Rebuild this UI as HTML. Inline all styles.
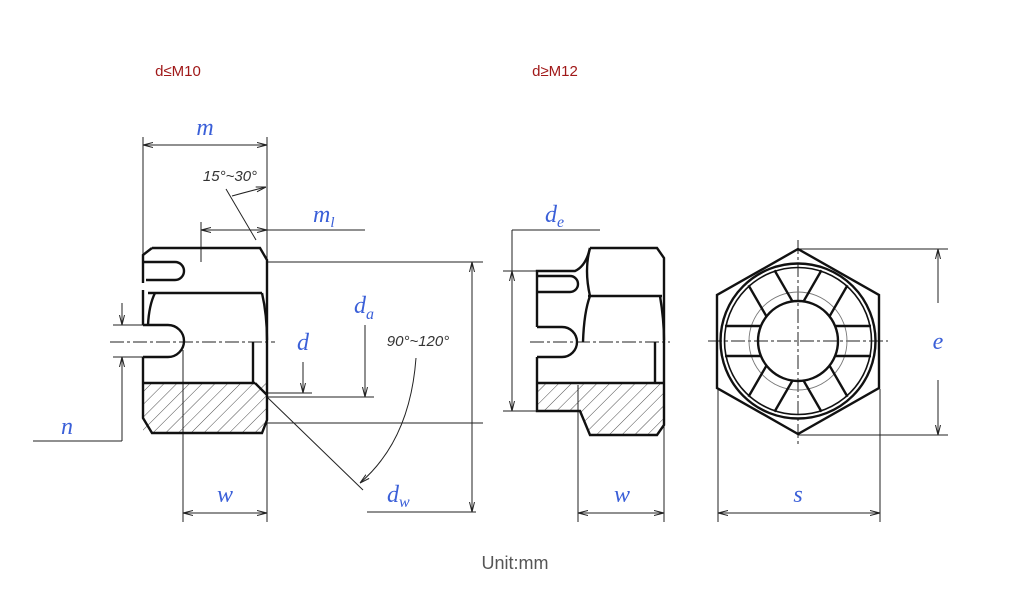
<!DOCTYPE html>
<html><head><meta charset="utf-8"><style>
html,body{margin:0;padding:0;background:#fff;width:1024px;height:604px;overflow:hidden}
svg{display:block}
.l{font-family:"Liberation Serif",serif;font-style:italic;fill:#3a5fd8;font-size:24px}
.t{font-family:"Liberation Sans",sans-serif;font-style:italic;fill:#333;font-size:15px}
</style></head><body>
<svg width="1024" height="604" viewBox="0 0 1024 604" xmlns="http://www.w3.org/2000/svg">
<defs>
<pattern id="h" patternUnits="userSpaceOnUse" width="9" height="9" patternTransform="rotate(45)">
<line x1="0" y1="0" x2="0" y2="9" stroke="#222" stroke-width="0.8"/></pattern>
<marker id="a" viewBox="0 0 10 6" refX="10" refY="3" markerWidth="10" markerHeight="6" orient="auto-start-reverse" markerUnits="userSpaceOnUse"><path d="M0,0.5 L10,3 L0,5.5" fill="none" stroke="#222" stroke-width="1"/></marker>
</defs>
<text x="178" y="76" text-anchor="middle" font-family="Liberation Sans,DejaVu Sans,sans-serif" font-size="15" fill="#a01818">d≤M10</text>
<text x="555" y="76" text-anchor="middle" font-family="Liberation Sans,DejaVu Sans,sans-serif" font-size="15" fill="#a01818">d≥M12</text>
<text x="515" y="569" text-anchor="middle" font-family="Liberation Sans,sans-serif" font-size="18" fill="#555">Unit:mm</text>

<g stroke="#222" fill="none" stroke-width="1">
<line x1="143" y1="137" x2="143" y2="255"/>
<line x1="267" y1="137" x2="267" y2="522"/>
<line x1="143" y1="145" x2="267" y2="145" marker-start="url(#a)" marker-end="url(#a)"/>
<line x1="226" y1="189" x2="256" y2="240"/>
<path d="M232,196 Q250,191 266,187" marker-end="url(#a)"/>
<line x1="201" y1="222" x2="201" y2="262"/>
<line x1="201" y1="230" x2="267" y2="230" marker-start="url(#a)" marker-end="url(#a)"/>
<line x1="267" y1="230" x2="365" y2="230"/>
<line x1="267" y1="262" x2="483" y2="262"/>
<line x1="267" y1="423" x2="483" y2="423"/>
<line x1="472" y1="262" x2="472" y2="512" marker-start="url(#a)" marker-end="url(#a)"/>
<line x1="113" y1="325" x2="143" y2="325"/>
<line x1="113" y1="357" x2="143" y2="357"/>
<line x1="122" y1="303" x2="122" y2="325" marker-end="url(#a)"/>
<line x1="122" y1="441" x2="122" y2="357" marker-end="url(#a)"/>
<line x1="33" y1="441" x2="122" y2="441"/>
<line x1="183" y1="350" x2="183" y2="522"/>
<line x1="183" y1="513" x2="267" y2="513" marker-start="url(#a)" marker-end="url(#a)"/>
<line x1="303" y1="362" x2="303" y2="393" marker-end="url(#a)"/>
<line x1="267" y1="393" x2="312" y2="393"/>
<line x1="365" y1="325" x2="365" y2="397" marker-end="url(#a)"/>
<line x1="267" y1="397" x2="374" y2="397"/>
<line x1="267" y1="397" x2="363" y2="490"/>
<path d="M416,358 Q410,440 360,483" marker-end="url(#a)"/>
<line x1="367" y1="512" x2="476" y2="512"/>
<line x1="110" y1="342" x2="275" y2="342" stroke-dasharray="14,3,3,3"/>
</g>
<rect x="143" y="383" width="124" height="50" fill="url(#h)"/>
<g stroke="#111" fill="none" stroke-width="2.4">
<path d="M152,248 L260,248 L267,260 L267,420 L262,433 L152,433 L143,418 L143,357"/>
<path d="M143,325 L143,290 M143,283 L143,255 L152,248"/>
<path d="M143,262 L175,262 A9,9 0 0 1 175,280 L146,280"/>
<path d="M143,325 L168,325 A16,16 0 0 1 168,357 L143,357"/>
<line x1="148" y1="293" x2="262" y2="293"/>
<path d="M155,293 Q149,305 148,325"/>
<path d="M262,293 Q267,315 267,340"/>
<line x1="143" y1="383" x2="255" y2="383"/>
<line x1="255" y1="383" x2="267" y2="395"/>
<line x1="253" y1="342" x2="253" y2="383"/>
</g>

<g stroke="#222" fill="none" stroke-width="1">
<line x1="512" y1="230" x2="600" y2="230"/>
<line x1="512" y1="230" x2="512" y2="271"/>
<line x1="512" y1="271" x2="512" y2="411" marker-start="url(#a)" marker-end="url(#a)"/>
<line x1="503" y1="271" x2="545" y2="271"/>
<line x1="503" y1="411" x2="540" y2="411"/>
<line x1="578" y1="385" x2="578" y2="522"/>
<line x1="664" y1="400" x2="664" y2="522"/>
<line x1="578" y1="513" x2="664" y2="513" marker-start="url(#a)" marker-end="url(#a)"/>
<line x1="530" y1="342" x2="670" y2="342" stroke-dasharray="14,3,3,3"/>
</g>
<path d="M537,383 L664,383 L664,425 L657,435 L590,435 L580,411 L537,411 Z" fill="url(#h)"/>
<g stroke="#111" fill="none" stroke-width="2.4">
<path d="M590,248 L657,248 L664,258 L664,425 L657,435 L590,435 L580,411 L537,411 L537,357"/>
<path d="M537,327 L537,271 L575,271 Q586,266 590,248"/>
<path d="M537,276 L570,276 A8,8 0 0 1 570,292 L537,292"/>
<path d="M537,327 L562,327 A15,15 0 0 1 562,357 L537,357"/>
<line x1="588" y1="296" x2="662" y2="296"/>
<path d="M590,296 Q584,312 583,342"/>
<path d="M590,248 Q584,270 590,296"/>
<path d="M660,296 Q664,320 664,340"/>
<line x1="537" y1="383" x2="664" y2="383"/>
<line x1="655" y1="342" x2="655" y2="383"/>
</g>

<g stroke="#222" fill="none" stroke-width="1">
<line x1="798" y1="249" x2="948" y2="249"/>
<line x1="798" y1="435" x2="948" y2="435"/>
<line x1="938" y1="303" x2="938" y2="249" marker-end="url(#a)"/>
<line x1="938" y1="380" x2="938" y2="435" marker-end="url(#a)"/>
<line x1="718" y1="389" x2="718" y2="522"/>
<line x1="880" y1="389" x2="880" y2="522"/>
<line x1="718" y1="513" x2="880" y2="513" marker-start="url(#a)" marker-end="url(#a)"/>
<line x1="708" y1="341" x2="888" y2="341" stroke-dasharray="14,3,3,3"/>
<line x1="798" y1="240" x2="798" y2="444" stroke-dasharray="14,3,3,3"/>
<circle cx="798" cy="341" r="49" stroke="#777" stroke-width="0.9"/>
</g>
<g stroke="#111" fill="none" stroke-width="2.4">
<polygon points="798,249 879,295 879,388 798,434 717,388 717,295"/>
<circle cx="798" cy="341" r="77.5"/>
<circle cx="798" cy="341" r="73.5" stroke-width="1.6"/>
<circle cx="798" cy="341" r="40"/>
<g id="s">
<line x1="835" y1="326" x2="871" y2="326"/>
<line x1="835" y1="356" x2="871" y2="356"/>
</g>
<use href="#s" transform="rotate(60 798 341)"/>
<use href="#s" transform="rotate(120 798 341)"/>
<use href="#s" transform="rotate(180 798 341)"/>
<use href="#s" transform="rotate(240 798 341)"/>
<use href="#s" transform="rotate(300 798 341)"/>
</g>

<text class="l" x="205" y="135" text-anchor="middle">m</text>
<text class="t" x="230" y="181" text-anchor="middle">15°~30°</text>
<text class="l" x="313" y="222">m<tspan font-size="15" dy="5">l</tspan></text>
<text class="l" x="354" y="313">d<tspan font-size="16" dy="6">a</tspan></text>
<text class="l" x="303" y="350" text-anchor="middle">d</text>
<text class="t" x="418" y="346" text-anchor="middle">90°~120°</text>
<text class="l" x="67" y="434" text-anchor="middle">n</text>
<text class="l" x="225" y="502" text-anchor="middle">w</text>
<text class="l" x="387" y="502">d<tspan font-size="16" dy="5">w</tspan></text>
<text class="l" x="545" y="222">d<tspan font-size="16" dy="5">e</tspan></text>
<text class="l" x="622" y="502" text-anchor="middle">w</text>
<text class="l" x="798" y="502" text-anchor="middle">s</text>
<text class="l" x="938" y="349" text-anchor="middle">e</text>
</svg>
</body></html>
